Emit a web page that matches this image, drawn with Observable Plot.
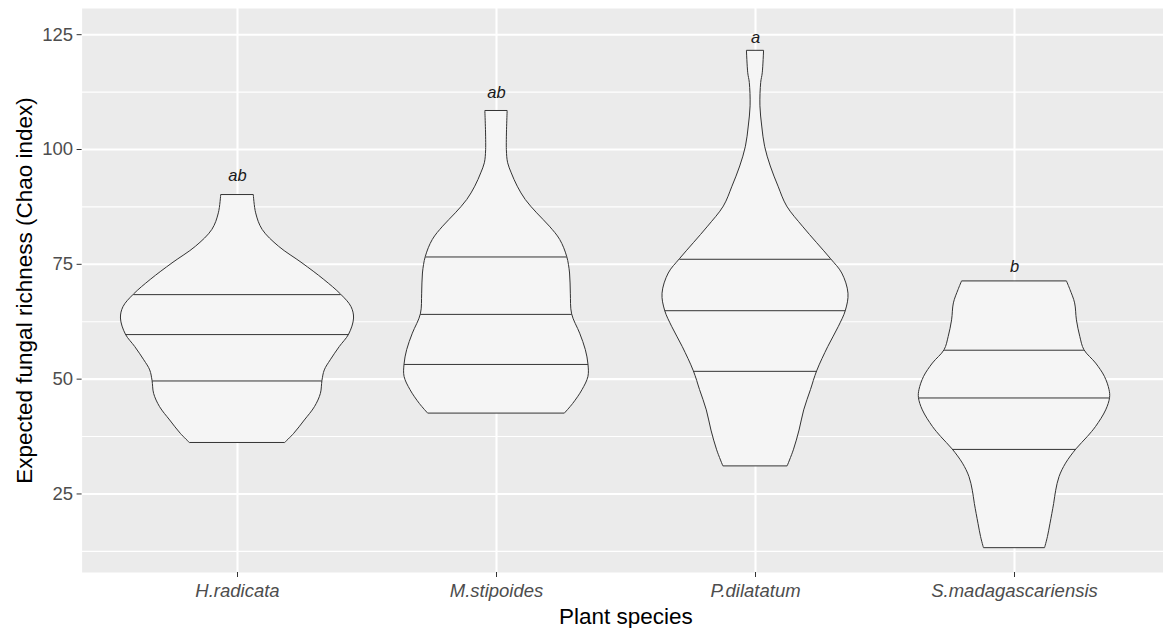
<!DOCTYPE html>
<html>
<head>
<meta charset="utf-8">
<script src="https://cdn.jsdelivr.net/npm/d3@7"></script>
<script src="https://cdn.jsdelivr.net/npm/@observablehq/plot@0.6"></script>
<style>
  html, body { margin: 0; padding: 0; background: #fff; overflow: hidden; }
  g[aria-label="y-axis tick label"], g[aria-label="x-axis tick label"] { fill: #4D4D4D; }
  g[aria-label="y-axis tick"], g[aria-label="x-axis tick"] { stroke: #333333; }
</style>
</head>
<body>
<div id="chart"></div>
<script>
// Categories and annotations
const species = ["H.radicata", "M.stipoides", "P.dilatatum", "S.madagascariensis"];
const sigLetters = ["ab", "ab", "a", "b"];
const sigY = [94.4, 112.3, 124.3, 74.5];
const yTicks = [25, 50, 75, 100, 125];
const yMinorTicks = [12.5, 37.5, 62.5, 87.5, 112.5];

// Violin profiles: Chao values (top to bottom) and half-width (category units, from density)
const hrY = [90.0, 86.1, 82.5, 78.8, 75.2, 71.6, 68.4, 65.7, 63.2, 59.7, 57.0, 54.1, 51.9, 49.6, 46.8, 43.9, 41.0, 38.1, 36.1];
const hrW = [0.063, 0.072, 0.097, 0.161, 0.251, 0.335, 0.400, 0.440, 0.450, 0.431, 0.395, 0.360, 0.337, 0.328, 0.322, 0.299, 0.260, 0.219, 0.184];

const msY = [108.3, 99.9, 97.0, 94.8, 91.9, 89.0, 86.1, 83.2, 80.3, 76.6, 73.0, 68.6, 64.1, 59.9, 56.3, 53.2, 50.5, 47.6, 44.6, 42.5];
const msW = [0.043, 0.040, 0.045, 0.059, 0.082, 0.113, 0.157, 0.206, 0.246, 0.273, 0.284, 0.287, 0.292, 0.323, 0.345, 0.355, 0.355, 0.332, 0.296, 0.264];

const pdY = [121.4, 116.6, 114.5, 109.4, 105.0, 100.6, 96.3, 91.9, 87.6, 83.2, 79.6, 76.1, 73.0, 68.6, 64.9, 61.4, 57.0, 51.7, 47.6, 43.2, 38.8, 34.5, 31.0];
const pdW = [0.033, 0.028, 0.022, 0.019, 0.026, 0.037, 0.059, 0.089, 0.122, 0.183, 0.238, 0.292, 0.335, 0.359, 0.349, 0.322, 0.281, 0.238, 0.214, 0.188, 0.170, 0.148, 0.124];

const smY = [71.2, 69.4, 66.5, 62.8, 59.2, 56.3, 53.4, 50.5, 47.6, 45.9, 43.2, 39.6, 37.4, 34.7, 31.6, 28.7, 25.7, 22.8, 18.5, 15.6, 13.2];
const smW = [0.203, 0.216, 0.234, 0.241, 0.254, 0.270, 0.315, 0.349, 0.367, 0.369, 0.354, 0.315, 0.283, 0.239, 0.199, 0.174, 0.161, 0.153, 0.139, 0.129, 0.118];

// Quartiles drawn inside each violin (25%, 50%, 75%)
const quartiles = [
  [49.6, 59.7, 68.4],
  [53.2, 64.1, 76.6],
  [51.7, 64.9, 76.1],
  [34.7, 45.9, 56.3]
];

const profY = [hrY, msY, pdY, smY];
const profW = [hrW, msW, pdW, smW];

const violin = species.flatMap((s, i) => profY[i].map((v, j) => ({species: s, pos: i + 1, value: v, half: profW[i][j]})));
const qlines = species.flatMap((s, i) => quartiles[i].map(q => {
  const j = profY[i].indexOf(q);
  return {species: s, pos: i + 1, value: q, half: profW[i][j]};
}));
const sigData = species.map((s, i) => ({pos: i + 1, value: sigY[i], label: sigLetters[i]}));

const W = 1163, H = 628, ML = 81.6, MB = 56, MT = 8;
const step = 259; // px per category

const chart = Plot.plot({
  width: W,
  height: H,
  marginLeft: ML,
  marginRight: 0,
  marginTop: MT,
  marginBottom: MB,
  style: {fontFamily: "'Liberation Sans', Arial, sans-serif", background: "white", overflow: "hidden"},
  x: {type: "linear", domain: [0.4, 0.4 + (W - ML) / step], axis: null, label: null},
  y: {domain: [7.9, 130.7], axis: null, label: null},
  marks: [
    Plot.frame({fill: "#EBEBEB", stroke: "none"}),
    Plot.ruleY(yMinorTicks, {stroke: "white", strokeWidth: 1.1}),
    Plot.ruleY(yTicks, {stroke: "white", strokeWidth: 2.1}),
    Plot.ruleX([1, 2, 3, 4], {stroke: "white", strokeWidth: 2.1}),
    Plot.areaX(violin, {
      y: "value",
      x1: d => d.pos - d.half,
      x2: d => d.pos + d.half,
      z: "species",
      fill: "#F5F5F5",
      stroke: "#333333",
      strokeWidth: 1,
      curve: "catmull-rom"
    }),
    Plot.ruleY(qlines, {
      y: "value",
      x1: d => d.pos - d.half,
      x2: d => d.pos + d.half,
      stroke: "#333333",
      strokeWidth: 1
    }),
    Plot.text(sigData, {x: "pos", y: "value", text: "label", fontStyle: "italic", fontSize: 16.5, fill: "#1A1A1A"}),
    Plot.axisY(yTicks, {anchor: "left", tickSize: 5, tickPadding: 4, fontSize: 18.5, label: null, color: "#4D4D4D"}),
    Plot.axisX([1, 2, 3, 4], {anchor: "bottom", tickSize: 5, tickPadding: 6.5, fontSize: 18.5, fontStyle: "italic", label: null, tickFormat: d => species[d - 1], color: "#4D4D4D"}),
    Plot.text(["Expected fungal richness (Chao index)"], {frameAnchor: "left", rotate: -90, textAnchor: "middle", lineAnchor: "middle", dx: -57, fontSize: 22.5, fill: "black"}),
    Plot.text(["Plant species"], {frameAnchor: "bottom", textAnchor: "middle", lineAnchor: "middle", dx: 3, dy: 44, fontSize: 22.5, fill: "black"})
  ]
});

document.getElementById("chart").appendChild(chart);
</script>
</body>
</html>
